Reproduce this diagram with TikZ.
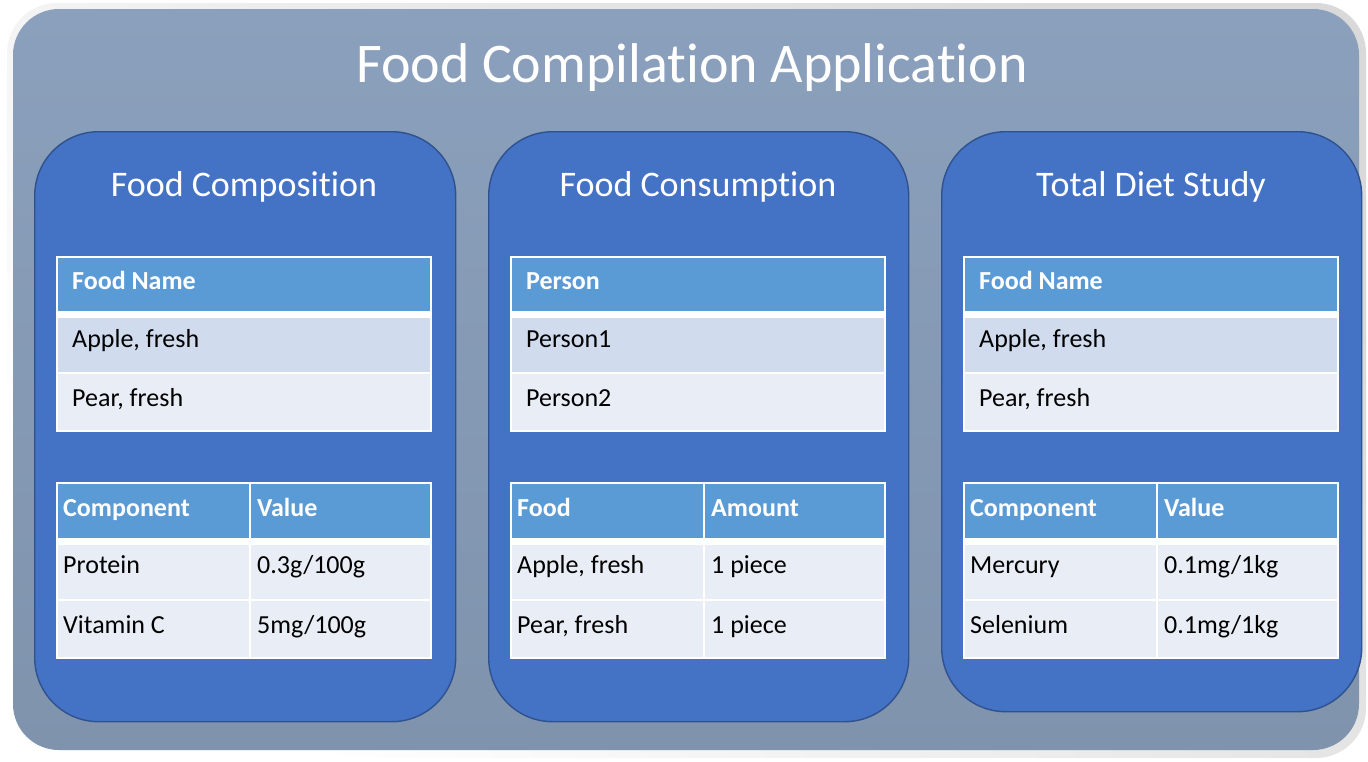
\documentclass[tikz,border=0pt]{standalone}
\usepackage{fontspec}
\setmainfont[Ligatures=NoCommon]{Carlito}
\definecolor{framefill}{HTML}{8BA0BC}
\definecolor{framefillb}{HTML}{7F93AD}
\definecolor{panelfill}{HTML}{4472C4}
\definecolor{paneledge}{HTML}{2F528F}
\definecolor{hdrfill}{HTML}{5B9BD5}
\definecolor{rowdark}{HTML}{D0DBEE}
\definecolor{rowlight}{HTML}{E9EDF6}
\tikzset{
  panel/.style={draw=paneledge, line width=1.4pt, fill=panelfill,
    rounded corners=64pt, anchor=north west, inner sep=0pt},
  maintitle/.style={text=white, font=\fontsize{56}{64}\selectfont,
    anchor=base, inner sep=0pt},
  paneltitle/.style={text=white, font=\fontsize{36}{40}\selectfont,
    anchor=base, inner sep=0pt},
  hdrtext/.style={text=white, font=\bfseries\fontsize{26}{30}\selectfont,
    anchor=base west, inner sep=0pt},
  celltext/.style={text=black, font=\fontsize{26}{30}\selectfont,
    anchor=base west, inner sep=0pt},
}
% single-column list table: header plus two rows
\newcommand\nametable[4]{%
  \fill[white] (56,256) rectangle (432,432);
  \fill[hdrfill] (58,258) rectangle (430,311);
  \fill[rowdark] (58,318) rectangle (430,372);
  \fill[rowlight] (58,374) rectangle (430,430);
  \node[hdrtext] (#1-h) at (72,289) {#2};
  \node[celltext] (#1-r1) at (72,347) {#3};
  \node[celltext] (#1-r2) at (72,406) {#4};
}
% two-column table: header plus two rows
\newcommand\valuetable[7]{%
  \fill[white] (56,482) rectangle (432,659);
  \fill[hdrfill] (58,484) rectangle (249,537.5);
  \fill[hdrfill] (251,484) rectangle (430,537.5);
  \fill[rowlight] (58,545) rectangle (249,599);
  \fill[rowlight] (251,545) rectangle (430,599);
  \fill[rowlight] (58,601) rectangle (249,657);
  \fill[rowlight] (251,601) rectangle (430,657);
  \node[hdrtext] (#1-ha) at (63,516) {#2};
  \node[hdrtext] (#1-hb) at (257,516) {#3};
  \node[celltext] (#1-a1) at (63,573) {#4};
  \node[celltext] (#1-b1) at (257,573) {#5};
  \node[celltext] (#1-a2) at (63,633) {#6};
  \node[celltext] (#1-b2) at (257,633) {#7};
}
\begin{document}
\begin{tikzpicture}[x=1pt, y=-1pt]
\useasboundingbox (0,0) rectangle (1368,761);
% bevelled outer frame
\shade[left color=white, right color=white!70!gray, shading angle=135,
  rounded corners=50pt] (7,3) rectangle (1366,758);
\shade[top color=framefill, bottom color=framefillb, rounded corners=46pt]
  (13,9) rectangle (1359,750);
\node[maintitle] (title) at (692,82) {Food Compilation Application};

% three module panels
\node[panel, minimum width=421pt, minimum height=590pt] (pc) at (34,131) {};
\node[panel, minimum width=420pt, minimum height=590pt] (pk) at (488,131) {};
\node[panel, minimum width=420pt, minimum height=580pt] (pt) at (941,131) {};

\node[paneltitle] (tc) at (244,196) {Food Composition};
\node[paneltitle] (tk) at (698,196) {Food Consumption};
\node[paneltitle] (tt) at (1151,196) {Total Diet Study};

\nametable{c}{Food Name}{Apple, fresh}{Pear, fresh}
\valuetable{cv}{Component}{Value}{Protein}{0.3g/100g}{Vitamin C}{5mg/100g}

\begin{scope}[xshift=454pt]
\nametable{k}{Person}{Person1}{Person2}
\valuetable{kv}{Food}{Amount}{Apple, fresh}{1 piece}{Pear, fresh}{1 piece}
\end{scope}

\begin{scope}[xshift=907pt]
\nametable{t}{Food Name}{Apple, fresh}{Pear, fresh}
\valuetable{tv}{Component}{Value}{Mercury}{0.1mg/1kg}{Selenium}{0.1mg/1kg}
\end{scope}
\end{tikzpicture}
\end{document}
